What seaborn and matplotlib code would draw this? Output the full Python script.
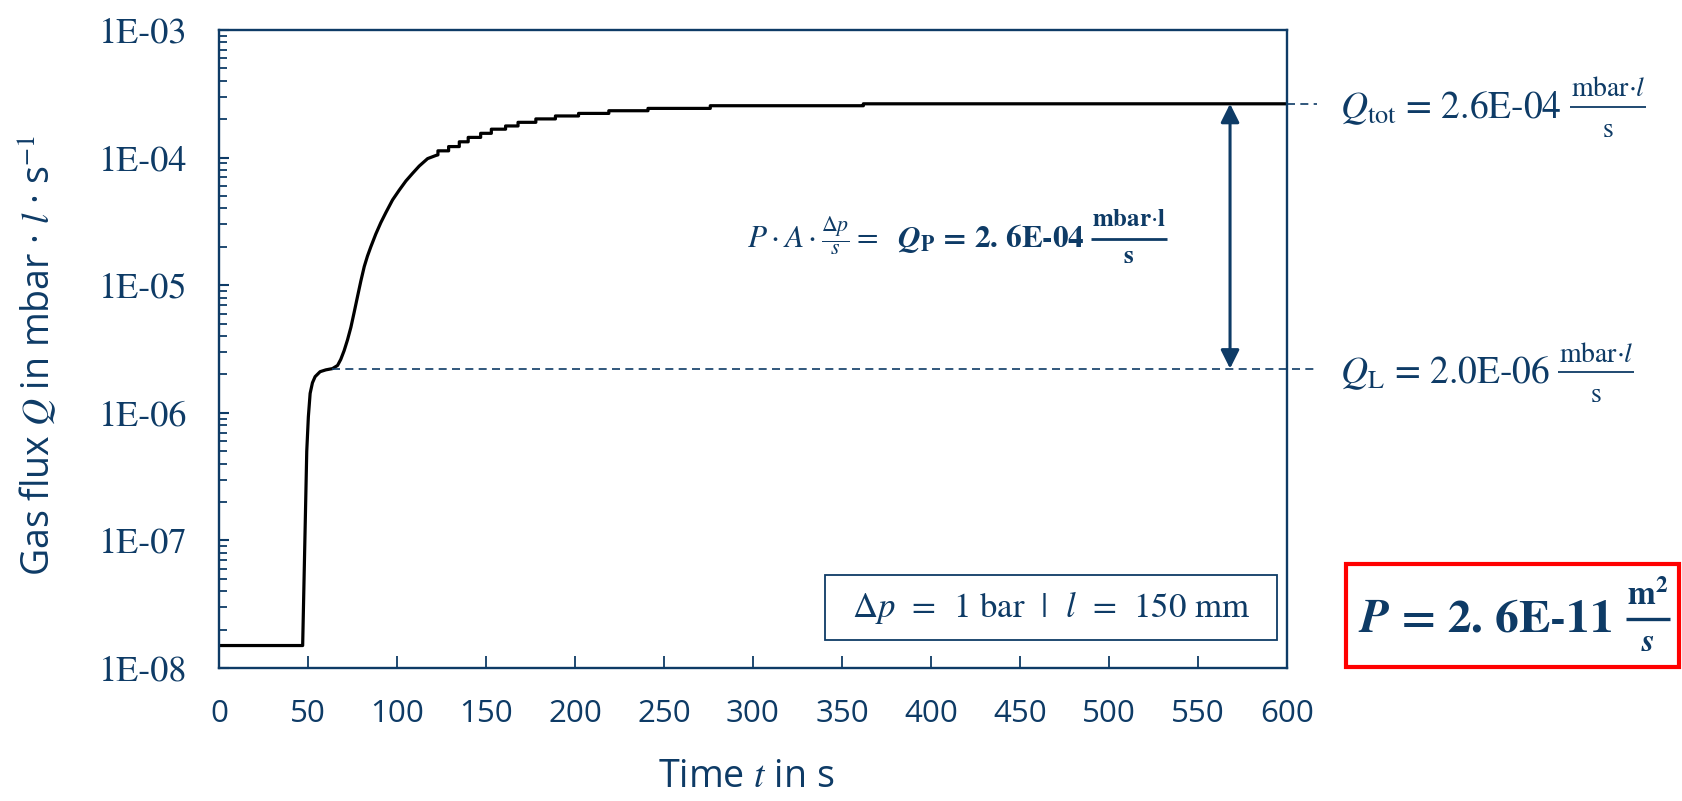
import numpy as np
import pandas as pd
import matplotlib
matplotlib.use("Agg")
import matplotlib.pyplot as plt
import seaborn as sns
from matplotlib.ticker import FixedLocator, FuncFormatter, LogLocator, NullFormatter
from matplotlib.patches import Rectangle
from matplotlib.lines import Line2D

# ---------------- data ----------------
time_s = [0, 47, 49.3, 50.2, 51.2, 52.5, 54, 56.8, 60, 63.75, 66.6, 68.4, 70.3,
          72.2, 74.1, 75.9, 77.8, 79.7, 81.6, 83.4, 85.3, 88.1, 90.9, 93.8, 97.5,
          101.3, 105, 108.8, 112.5, 117.2, 121.9, 123,
          123, 129, 129, 135, 135, 140, 140, 147, 147, 153, 153, 161, 161, 168,
          168, 178, 178, 189, 189, 202, 202, 219, 219, 241, 241, 276, 276, 362,
          362, 600]
flux = [1.5e-8, 1.5e-8, 5.0e-7, 9.3e-7, 1.42e-6, 1.72e-6, 1.92e-6, 2.1e-6, 2.17e-6,
        2.22e-6, 2.35e-6, 2.62e-6, 3.07e-6, 3.73e-6, 4.68e-6, 6.1e-6, 8.13e-6,
        1.08e-5, 1.4e-5, 1.69e-5, 2.0e-5, 2.52e-5, 3.09e-5, 3.72e-5, 4.66e-5,
        5.57e-5, 6.56e-5, 7.54e-5, 8.59e-5, 9.82e-5, 1.04e-4, 1.05e-4,
        1.13e-4, 1.13e-4, 1.22e-4, 1.22e-4, 1.33e-4, 1.33e-4, 1.44e-4, 1.44e-4,
        1.55e-4, 1.55e-4, 1.67e-4, 1.67e-4, 1.77e-4, 1.77e-4, 1.89e-4, 1.89e-4,
        2.01e-4, 2.01e-4, 2.12e-4, 2.12e-4, 2.22e-4, 2.22e-4, 2.33e-4, 2.33e-4,
        2.43e-4, 2.43e-4, 2.55e-4, 2.55e-4, 2.64e-4, 2.64e-4]

x_ticks = [0, 50, 100, 150, 200, 250, 300, 350, 400, 450, 500, 550, 600]
y_ticks = [1e-8, 1e-7, 1e-6, 1e-5, 1e-4, 1e-3]

Q_tot = 2.64e-4          # level of total flux line
Q_L = 2.22e-6            # level of leak flux line
t_plateau = 63.75        # where the Q_L dashed line starts
t_arrow = 568            # position of the double arrow
t_dash_end = 617         # dashed lines run a bit past the right spine

NAVY = "#0E3B66"

sns.set_theme(style="white")
plt.rcParams["font.family"] = ["Open Sans", "DejaVu Sans"]
plt.rcParams["mathtext.fontset"] = "stix"

fig = plt.figure(figsize=(16.83, 8.01), dpi=100)
W, H = 1683, 801
ax = fig.add_axes([219 / W, 1 - 668 / H, (1287 - 219) / W, (668 - 30) / H])

df = pd.DataFrame({"t": time_s, "Q": flux})
sns.lineplot(data=df, x="t", y="Q", estimator=None, sort=False, color="black",
             lw=2.3, ax=ax)

ax.set_yscale("log")
ax.set_xlim(0, 600)
ax.set_ylim(1e-8, 1e-3)

ax.xaxis.set_major_locator(FixedLocator(x_ticks))
ax.yaxis.set_major_locator(FixedLocator(y_ticks))
ax.yaxis.set_major_formatter(FuncFormatter(lambda v, p: f"{v:.0E}"))
ax.yaxis.set_minor_locator(LogLocator(base=10, subs=np.arange(2, 10)))
ax.yaxis.set_minor_formatter(NullFormatter())

for s in ax.spines.values():
    s.set_color(NAVY)
    s.set_linewidth(1.7)

ax.tick_params(axis="x", which="major", direction="in", bottom=True, top=False,
               length=8.5, width=1.3, color=NAVY, labelcolor=NAVY,
               labelsize=22.5, pad=22)
ax.tick_params(axis="y", which="major", direction="in", left=True, right=False,
               length=7.5, width=1.5, color=NAVY, labelcolor=NAVY,
               labelsize=26, pad=23)
ax.tick_params(axis="y", which="minor", direction="in", left=True, right=False,
               length=5.5, width=1.3, color=NAVY)
for lab in ax.get_yticklabels():
    lab.set_fontfamily("STIXGeneral")

ax.set_xlabel(r"Time $t$ in s", color=NAVY, fontsize=27, va="center", ha="center")
ax.xaxis.set_label_coords(0.494, -0.171)
ax.set_ylabel(r"Gas flux $Q$ in mbar · $l$ · s$^{-1}$", color=NAVY, fontsize=27,
              va="center", ha="center")
ax.yaxis.set_label_coords(-0.1695, 0.489)

# dashed reference lines
ax.plot([t_plateau, t_dash_end], [Q_L, Q_L], color=NAVY, lw=1.2,
        dashes=(4.8, 3.2), clip_on=False)
ax.plot([600, t_dash_end], [Q_tot, Q_tot], color=NAVY, lw=1.2,
        dashes=(4.8, 3.2), clip_on=False)

# double arrow
ax.annotate("", xy=(t_arrow, Q_tot), xytext=(t_arrow, Q_L),
            arrowprops=dict(arrowstyle="<|-|>", color=NAVY, lw=2.2,
                            mutation_scale=28, shrinkA=0, shrinkB=0))

renderer = fig.canvas.get_renderer()


def _txt(s, size, weight):
    return fig.text(0, 0, s, color=NAVY, fontsize=size, family="STIXGeneral",
                    weight=weight, ha="left", va="baseline")


def equation(x_px, ybar_px, main, num, den, size, main_drop, fsize, num_gap,
             den_gap, gap_px, bar_lw, align="left", weight="normal"):
    """Main text followed by a hand-built fraction whose bar sits at ybar_px."""
    t1 = _txt(main, size, weight)
    tn = _txt(num, fsize, weight)
    td = _txt(den, fsize, weight)
    tn.set_ha("center")
    td.set_ha("center")
    w1 = t1.get_window_extent(renderer).width
    wn = tn.get_window_extent(renderer).width
    wd = td.get_window_extent(renderer).width
    wf = max(wn, wd) + 2
    total = w1 + gap_px + wf
    x0 = x_px - total / 2 if align == "center" else x_px
    xf = x0 + w1 + gap_px
    t1.set_position((x0 / W, 1 - (ybar_px + main_drop) / H))
    tn.set_position(((xf + wf / 2) / W, 1 - (ybar_px - num_gap) / H))
    td.set_position(((xf + wf / 2) / W, 1 - (ybar_px + den_gap) / H))
    fig.add_artist(Line2D([xf / W, (xf + wf) / W], [1 - ybar_px / H] * 2,
                          transform=fig.transFigure, color=NAVY, lw=bar_lw,
                          solid_capstyle="butt"))


# right-side annotations
equation(1340, 107, r"$Q_{\mathrm{tot}}$ = 2.6E-04",
         r"mbar$\cdot l$", "s", 27, 11, 20, 10.5, 30, 8, 1.3)
equation(1340, 372, r"$Q_{\mathrm{L}}$ = 2.0E-06",
         r"mbar$\cdot l$", "s", 27, 11, 20, 10.5, 30, 8, 1.3)

# middle formula
equation(747, 239,
         r"$P\cdot A\cdot\frac{\Delta p}{s}=\ \ \mathbfit{Q}_{\mathbf{P}}$ = 2. 6E-04",
         r"mbar$\cdot$l", "s", 22.5, 9, 18, 12.5, 24, 6, 2.0, weight="bold")

# parameter box
ax.add_patch(Rectangle(((825 - 219) / 1068, (668 - 640) / 638),
                       (1277 - 825) / 1068, (640 - 575) / 638,
                       transform=ax.transAxes, fill=False, edgecolor=NAVY,
                       lw=1.3, zorder=5))
ax.text((1051 - 219) / 1068, (668 - 607) / 638,
        r"$\Delta p$  =  1 bar  $\vert$  $l$  =  150 mm",
        transform=ax.transAxes, color=NAVY, fontsize=25, family="STIXGeneral",
        ha="center", va="center", zorder=6)

# red result box
fig.patches.append(Rectangle((1346 / W, 1 - 667 / H), (1679 - 1346) / W,
                             (667 - 564) / H, transform=fig.transFigure,
                             fill=False, edgecolor="#FF0000", lw=3.0))
equation(1514, 619, r"$\mathbfit{P}$ = 2. 6E-11",
         r"m$^{\mathbf{2}}$", r"$\mathbfit{s}$", 34, 12.7, 24, 14, 32, 14, 2.4,
         align="center", weight="bold")

fig.savefig("out.png", dpi=100)
